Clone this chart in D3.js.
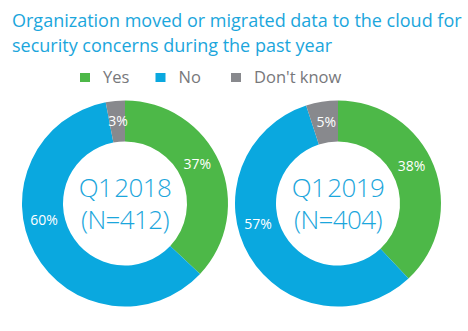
<!DOCTYPE html>
<html>
<head>
<meta charset="utf-8">
<script src="https://cdn.jsdelivr.net/npm/d3@7"></script>
<style>
  body { margin: 0; background: #fff; }
  text { font-family: "Open Sans", sans-serif; }
</style>
</head>
<body>
<svg id="chart" width="468" height="331"></svg>
<script>
const categories = ['Yes', 'No', "Don't know"]
const colors = ['#4db848', '#0aa8df', '#88898d']
const periods = ['Q1 2018', 'Q1 2019']
const sampleSizes = ['(N=412)', '(N=404)']
const values2018 = [37, 60, 3]
const values2019 = [38, 57, 5]
const titleLines = ['Organization moved or migrated data to the cloud for', 'security concerns during the past year']
// where along each slice the % label sits (0 = start, 1 = end)
const labelAt = [0.46, 0.58, 0.55]

const svg = d3.select('#chart')
const blue = '#1ba6dc'

svg.selectAll('.title')
  .data(titleLines)
  .join('text')
    .attr('class', 'title')
    .attr('x', 12)
    .attr('y', (d, i) => 27 + i * 25)
    .attr('fill', blue)
    .attr('font-size', 18)
    .text(d => d)

// legend
const legendX = d3.scalePoint().domain(categories).range([80, 231])
const legend = svg.selectAll('.legend')
  .data(categories)
  .join('g')
    .attr('class', 'legend')
    .attr('transform', d => `translate(${legendX(d)},73)`)
legend.append('rect')
  .attr('width', 10).attr('height', 9)
  .attr('fill', (d, i) => colors[i])
legend.append('text')
  .attr('x', 23).attr('y', 10)
  .attr('font-size', 16.5)
  .attr('fill', '#77787b')
  .text(d => d)

const outerR = 103, innerR = 62
const pie = d3.pie().sort(null).value(d => d)
const arc = d3.arc().innerRadius(innerR).outerRadius(outerR)
const centerX = d3.scalePoint().domain(periods).range([125, 338])

const series = [values2018, values2019]
periods.forEach((p, k) => {
  const g = svg.append('g').attr('transform', `translate(${centerX(p)},203.5)`)
  const arcs = pie(series[k])
  g.selectAll('path')
    .data(arcs)
    .join('path')
      .attr('d', arc)
      .attr('fill', (d, i) => colors[i])
  g.selectAll('.pct')
    .data(arcs)
    .join('text')
      .attr('class', 'pct')
      .attr('transform', (d, i) => {
        const a = d.startAngle + (d.endAngle - d.startAngle) * labelAt[i]
        const r = (innerR + outerR) / 2
        return `translate(${Math.sin(a) * r},${-Math.cos(a) * r})`
      })
      .attr('text-anchor', 'middle')
      .attr('dy', '0.35em')
      .attr('font-size', 14)
      .attr('fill', '#fff')
      .text(d => d.data + '%')
  const center = g.append('text')
    .attr('text-anchor', 'middle')
    .attr('font-size', 26)
    .attr('font-weight', 300)
    .attr('fill', blue)
    .style('letter-spacing', '-0.6px')
    .style('word-spacing', '-4px')
  center.append('tspan').attr('x', 0).attr('y', -7).text(p)
  center.append('tspan').attr('x', 0).attr('y', 25).text(sampleSizes[k])
})
</script>
</body>
</html>
